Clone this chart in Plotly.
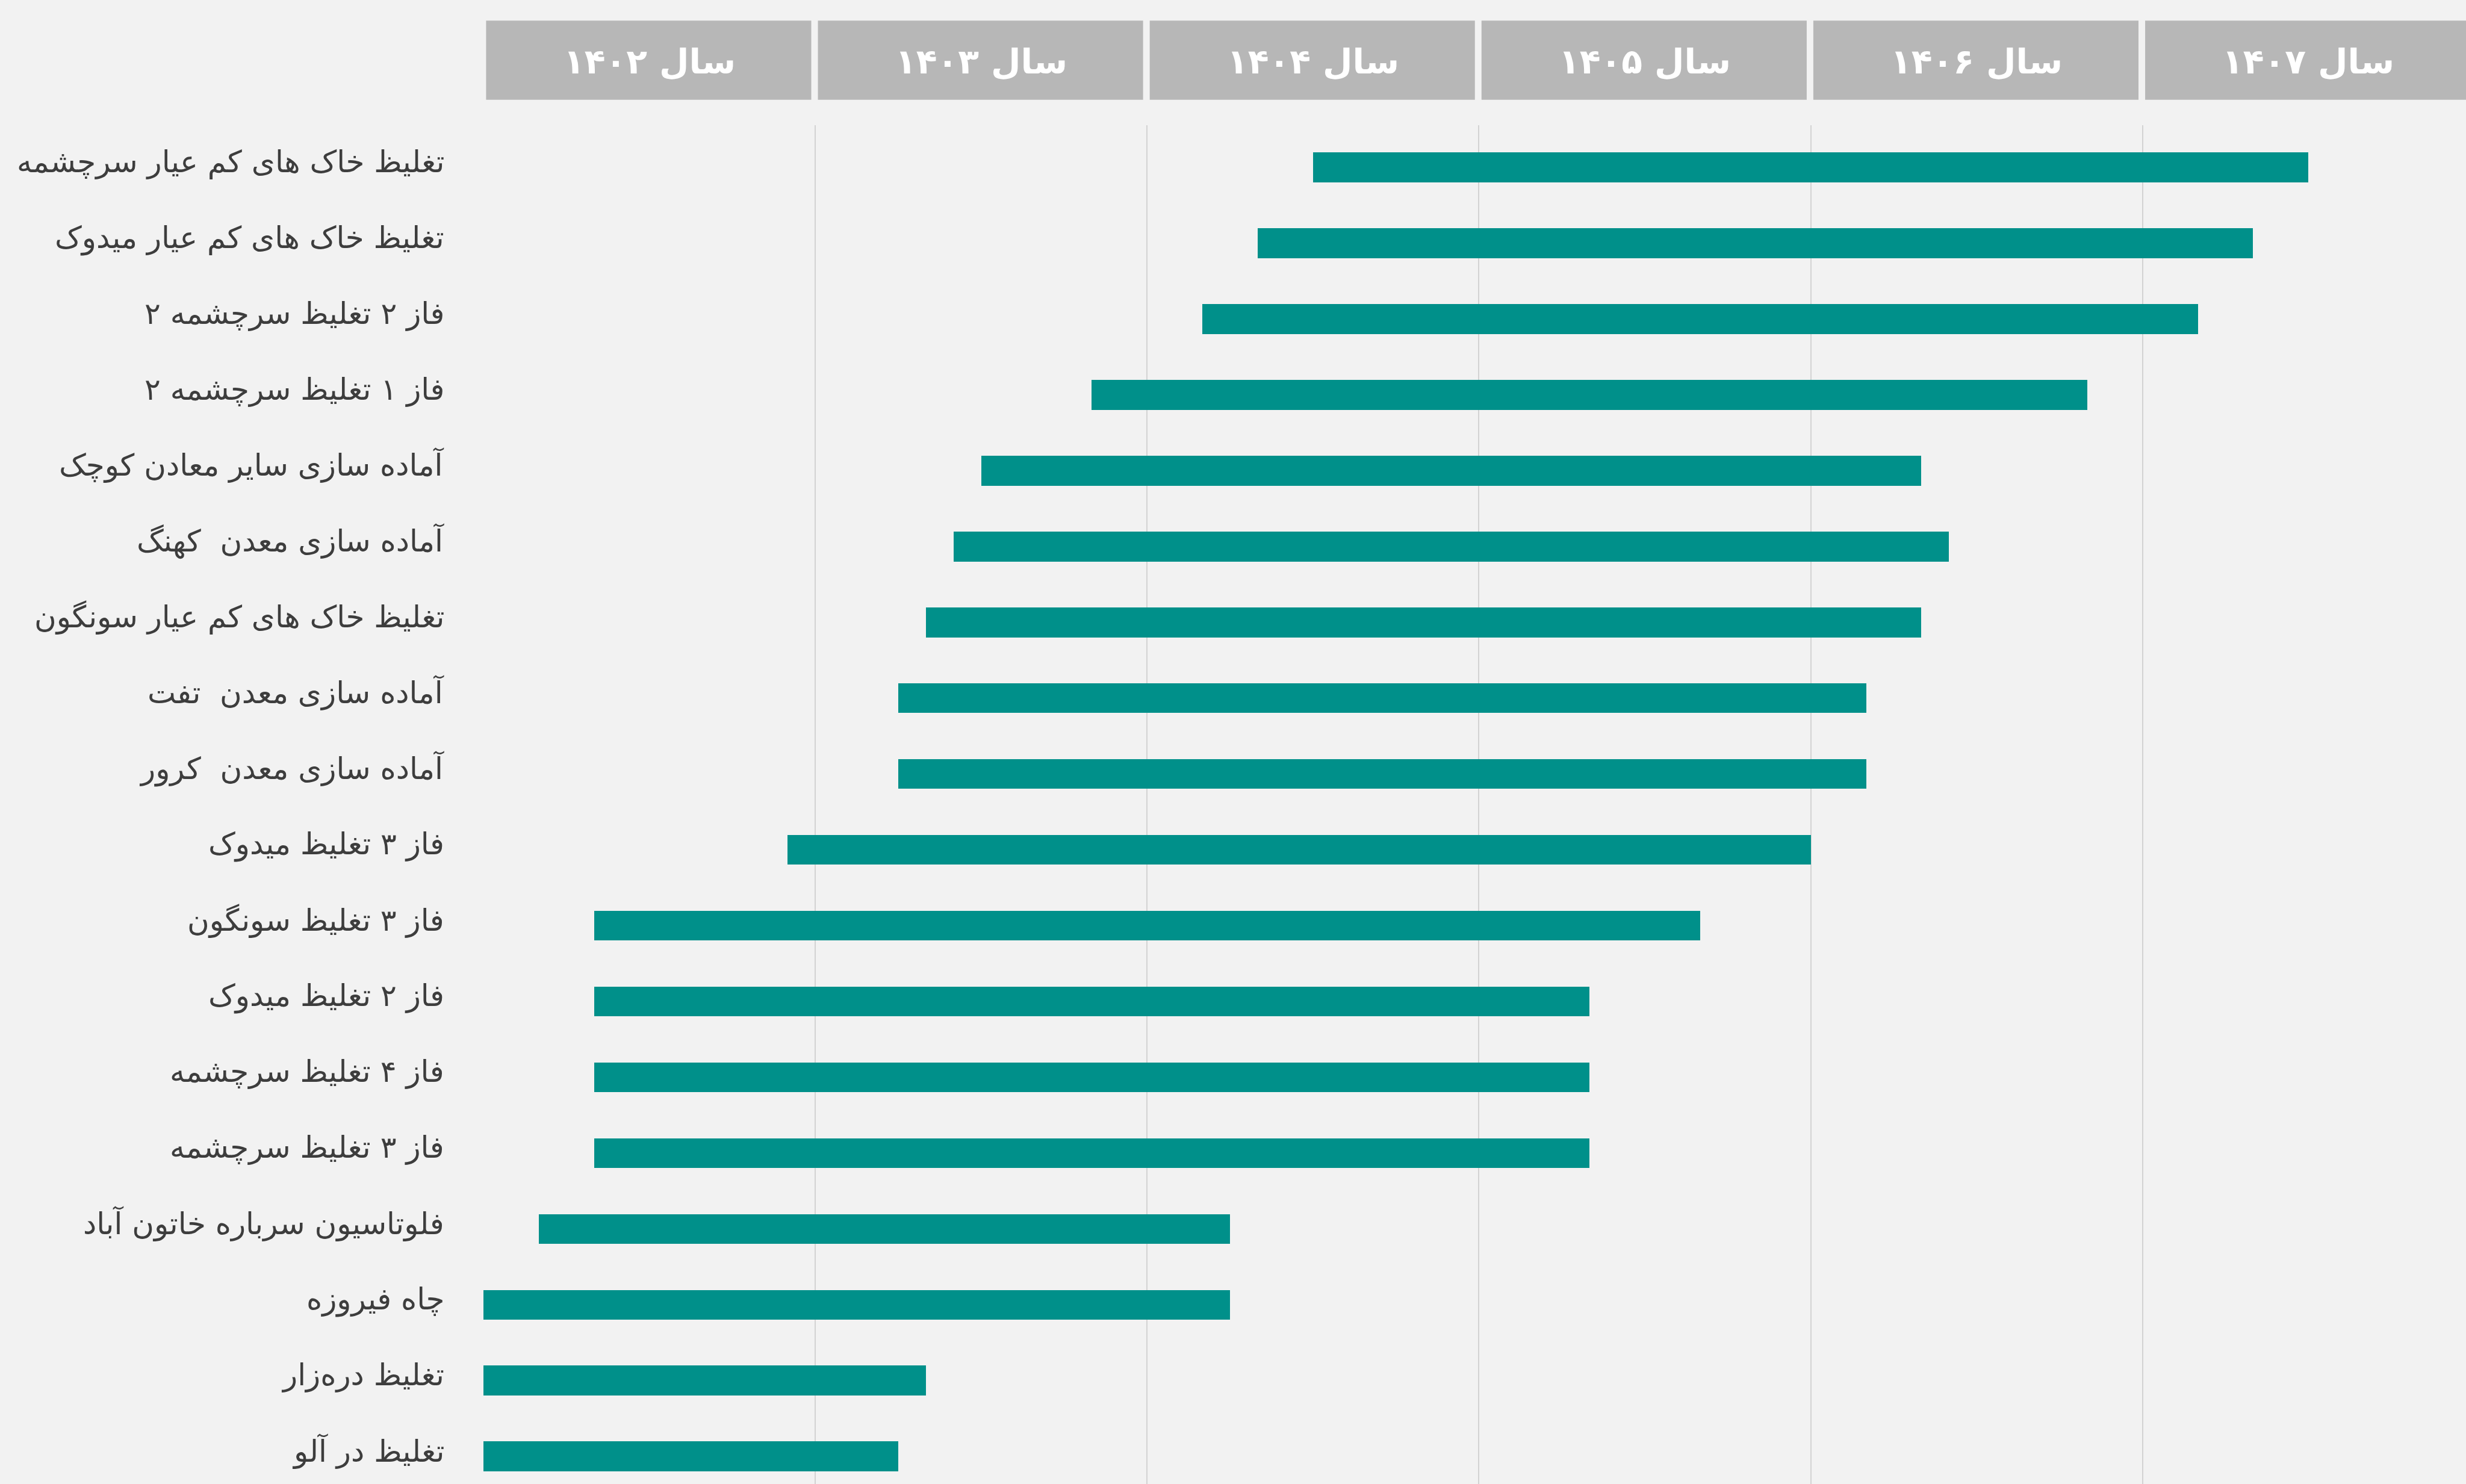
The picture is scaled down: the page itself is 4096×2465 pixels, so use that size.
import plotly.graph_objects as go

# Project schedule (Solar Hijri years; fractions are months / 12)
tasks = [
    "تغلیظ خاک های کم عیار سرچشمه",
    "تغلیظ خاک های کم عیار میدوک",
    "فاز ۲ تغلیظ سرچشمه ۲",
    "فاز ۱ تغلیظ سرچشمه ۲",
    "آماده سازی سایر معادن کوچک",
    "آماده سازی معدن\u00a0 کهنگ",
    "تغلیظ خاک های کم عیار سونگون",
    "آماده سازی معدن\u00a0 تفت",
    "آماده سازی معدن\u00a0 کرور",
    "فاز ۳ تغلیظ میدوک",
    "فاز ۳ تغلیظ سونگون",
    "فاز ۲ تغلیظ میدوک",
    "فاز ۴ تغلیظ سرچشمه",
    "فاز ۳ تغلیظ سرچشمه",
    "فلوتاسیون سرباره خاتون آباد",
    "چاه فیروزه",
    "تغلیظ دره‌زار",
    "تغلیظ در آلو",
]
start = [1404.50, 1404.333, 1404.167, 1403.833, 1403.50, 1403.417, 1403.333,
         1403.25, 1403.25, 1402.917, 1402.333, 1402.333, 1402.333, 1402.333,
         1402.167, 1402.00, 1402.00, 1402.00]
end = [1407.50, 1407.333, 1407.167, 1406.833, 1406.333, 1406.417, 1406.333,
       1406.167, 1406.167, 1406.00, 1405.667, 1405.333, 1405.333, 1405.333,
       1404.25, 1404.25, 1403.333, 1403.25]

years = [1402, 1403, 1404, 1405, 1406, 1407]
year_labels = ["سال ۱۴۰۲", "سال ۱۴۰۳", "سال ۱۴۰۴", "سال ۱۴۰۵", "سال ۱۴۰۶", "سال ۱۴۰۷"]

W, H = 4096, 2465
FONT = "DejaVu Sans"
BG = "#f2f2f2"
BAR = "#00908a"
HEADER = "#b7b7b7"

rows = list(range(len(tasks)))
durations = [e - s for s, e in zip(start, end)]

fig = go.Figure()
fig.add_trace(go.Bar(
    y=rows,
    x=durations,
    base=start,
    orientation="h",
    width=0.393,
    marker=dict(color=BAR, line=dict(width=0)),
    hoverinfo="skip",
    showlegend=False,
))

shapes = []
annotations = []

# Year header boxes above the plot area
for y, lab in zip(years, year_labels):
    shapes.append(dict(
        type="rect", xref="x", yref="paper",
        x0=y + 0.008, x1=y + 1 - 0.012,
        y0=1.0187, y1=1.0770,
        fillcolor=HEADER, line=dict(width=0), layer="above",
    ))
    annotations.append(dict(
        x=y + 0.5, y=1.0470, xref="x", yref="paper",
        text="<b>" + lab + "</b>", showarrow=False,
        font=dict(family=FONT, size=57, color="white"),
        xanchor="center", yanchor="middle",
    ))

# Task names, right-aligned to the left of the bars
for r, name in zip(rows, tasks):
    annotations.append(dict(
        x=0, y=r, xref="paper", yref="y",
        text=name, showarrow=False,
        font=dict(family=FONT, size=50, color="#3d3d3d"),
        xanchor="right", yanchor="middle",
        xshift=-63, yshift=9,
    ))

fig.update_layout(
    width=W, height=H,
    margin=dict(l=803, r=0, t=208, b=0, pad=0),
    paper_bgcolor=BG, plot_bgcolor=BG,
    shapes=shapes, annotations=annotations,
    bargap=0,
    xaxis=dict(
        range=[1402, 1407.975],
        tickvals=years,
        showticklabels=False,
        showgrid=True, gridcolor="#d3d3d3", gridwidth=2,
        zeroline=False, showline=False, ticks="",
        fixedrange=True,
    ),
    yaxis=dict(
        range=[17.364, -0.557],
        tickvals=rows,
        showticklabels=False,
        showgrid=False, zeroline=False, showline=False, ticks="",
        fixedrange=True,
    ),
)

fig.write_html("out.html")
